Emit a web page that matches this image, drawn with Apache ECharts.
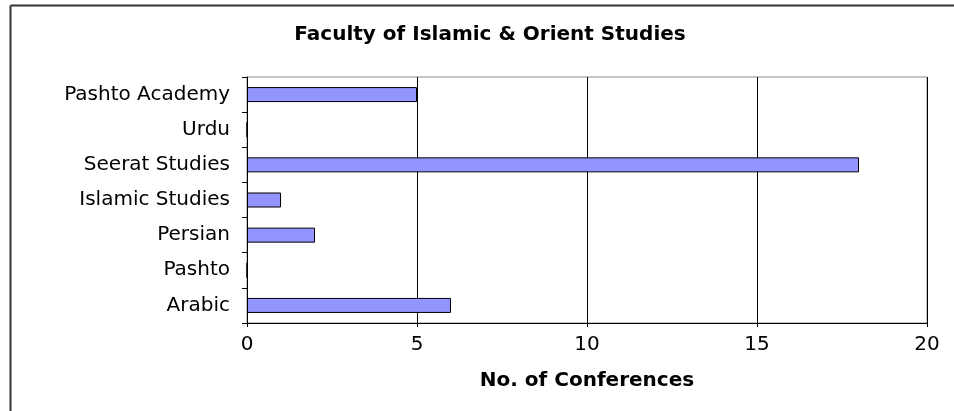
<!DOCTYPE html>
<html>
<head>
<meta charset="utf-8">
<script src="https://cdn.jsdelivr.net/npm/echarts@6/dist/echarts.min.js"></script>
<style>
    html, body { margin: 0; padding: 0; background: #fff; }
    #chart { width: 954px; height: 411px; }
</style>
</head>
<body>
<div id="chart"></div>
<script>
// bottom to top, as the y axis reads
var departments = ["Arabic", "Pashto", "Persian", "Islamic Studies", "Seerat Studies", "Urdu", "Pashto Academy"];
var conferences = [6, 0, 2, 1, 18, 0, 5];
var xTicks = [0, 5, 10, 15, 20];

var chart = echarts.init(document.getElementById("chart"));

var font = "DejaVu Sans";

chart.setOption({
    animation: false,
    backgroundColor: "#fff",
    title: {
        text: "Faculty of Islamic & Orient Studies",
        left: 485,
        top: 20,
        textAlign: "center",
        textStyle: {
            fontFamily: font,
            fontWeight: "bold",
            fontSize: 20,
            color: "#000"
        }
    },
    grid: {
        left: 247,
        top: 77,
        right: 27,
        bottom: 88,
        show: true,
        borderColor: "#8c8c8c",
        borderWidth: 1,
        containLabel: false
    },
    graphic: [
        {
            type: "line",
            shape: { x1: 10.5, y1: 5.5, x2: 954, y2: 5.5 },
            style: { stroke: "#333", lineWidth: 2 }
        },
        {
            type: "line",
            shape: { x1: 10.5, y1: 5.5, x2: 10.5, y2: 411 },
            style: { stroke: "#333", lineWidth: 2 }
        }
    ],
    xAxis: {
        type: "value",
        min: xTicks[0],
        max: xTicks[xTicks.length - 1],
        interval: xTicks[1] - xTicks[0],
        name: "No. of Conferences",
        nameLocation: "middle",
        nameGap: 48,
        nameTextStyle: {
            fontFamily: font,
            fontWeight: "bold",
            fontSize: 20,
            color: "#000"
        },
        axisLine: { show: true, lineStyle: { color: "#000", width: 1 } },
        axisTick: { show: true, length: 4, lineStyle: { color: "#000" } },
        axisLabel: {
            margin: 12,
            fontFamily: font,
            fontSize: 20,
            color: "#000"
        },
        splitLine: { show: true, lineStyle: { color: "#000", width: 1 } }
    },
    yAxis: {
        type: "category",
        data: departments,
        axisLine: { show: true, lineStyle: { color: "#000", width: 1 } },
        axisTick: { show: true, length: 5, inside: false, lineStyle: { color: "#000" } },
        axisLabel: {
            margin: 17,
            fontFamily: font,
            fontSize: 20,
            color: "#000"
        },
        splitLine: { show: false }
    },
    series: [
        {
            type: "bar",
            data: conferences,
            barWidth: 15,
            itemStyle: {
                color: "#9494ff",
                borderColor: "#000",
                borderWidth: 1
            }
        }
    ]
});
</script>
</body>
</html>
